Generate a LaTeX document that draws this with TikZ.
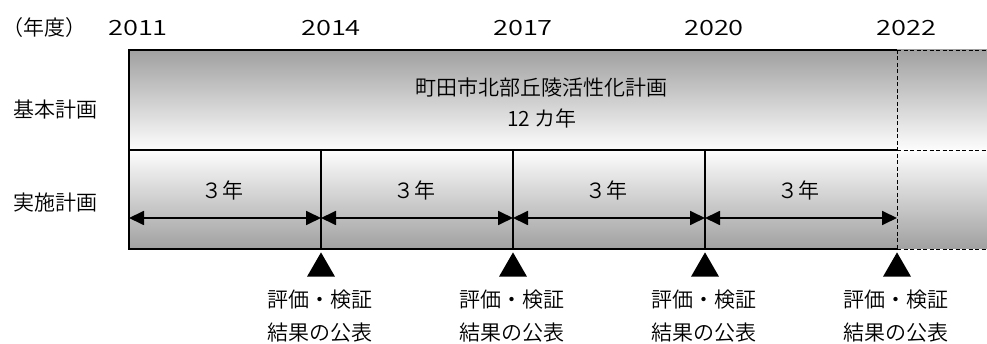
\documentclass[tikz,border=0pt]{standalone}
\usepackage{fontspec}
\usepackage{graphicx}
\setmainfont{Noto Sans CJK JP DemiLight}
\usetikzlibrary{shapes.geometric,arrows.meta}
\definecolor{gdark}{RGB}{160,160,160}
\definecolor{glight}{RGB}{253,253,253}
\begin{document}
\begin{tikzpicture}[x=1pt,y=-1pt,
  txt/.style={font=\fontsize{21}{25}\selectfont, inner sep=0pt},
  upgrad/.style={top color=gdark,bottom color=glight,draw=none},
  downgrad/.style={top color=glight,bottom color=gdark,draw=none},
  frame/.style={line width=2.4pt},
  divider/.style={line width=1.9pt},
  dashline/.style={line width=0.9pt,dash pattern=on 4pt off 2.5pt},
  span/.style={line width=1.8pt,{Triangle[length=15pt,width=14pt]}-{Triangle[length=15pt,width=14pt]}},
  milestone/.style={regular polygon, regular polygon sides=3, fill=black, draw=none, inner sep=0pt, minimum size=32.3pt}
]
\useasboundingbox (0,0) rectangle (987,344);
% shaded bands
\fill[upgrad] (129,50) rectangle (987,150);
\fill[downgrad] (129,150) rectangle (987,249);
% corner coordinates
\coordinate (tl) at (129,50);
\coordinate (tr) at (897,50);
\coordinate (ml) at (129,150);
\coordinate (mr) at (897,150);
\coordinate (bl) at (129,249);
\coordinate (br) at (897,249);
\coordinate (ex1) at (987,50);
\coordinate (ex2) at (987,150);
\coordinate (ex3) at (987,249);
\coordinate (d1t) at (321,150);
\coordinate (d1b) at (321,249);
\coordinate (d2t) at (513,150);
\coordinate (d2b) at (513,249);
\coordinate (d3t) at (705,150);
\coordinate (d3b) at (705,249);
% frame
\draw[frame] (tr) -- (tl) -- (bl) -- (br);
\draw[frame] (ml) -- (mr);
\draw[divider] (d1t) -- (d1b);
\draw[divider] (d2t) -- (d2b);
\draw[divider] (d3t) -- (d3b);
% dashed extension
\draw[dashline] (tr) -- (ex1);
\draw[dashline] (mr) -- (ex2);
\draw[dashline] (br) -- (ex3);
\draw[dashline] (tr) -- (br);
% arrows
\coordinate (a0) at (129,218);
\coordinate (a1) at (321,218);
\coordinate (a2) at (513,218);
\coordinate (a3) at (705,218);
\coordinate (a4) at (897,218);
\draw[span] (a0) -- (a1);
\draw[span] (a1) -- (a2);
\draw[span] (a2) -- (a3);
\draw[span] (a3) -- (a4);
% period labels
\node[txt] (p1) at (222,190) {３年};
\node[txt] (p2) at (414,190) {３年};
\node[txt] (p3) at (606,190) {３年};
\node[txt] (p4) at (798,190) {３年};
% title
\node[txt] (title1) at (541,88) {町田市北部丘陵活性化計画};
\node[txt] (title2) at (542,118) {12 カ年};
% row labels
\node[txt] (nendo) at (44,28) {（年度）};
\node[txt] (row1) at (55,110) {基本計画};
\node[txt] (row2) at (55,203) {実施計画};
% years
\node[txt] (y1) at (138,28) {\scalebox{1.3}[1]{2011}};
\node[txt] (y2) at (331,28) {\scalebox{1.3}[1]{2014}};
\node[txt] (y3) at (523,28) {\scalebox{1.3}[1]{2017}};
\node[txt] (y4) at (714,28) {\scalebox{1.3}[1]{2020}};
\node[txt] (y5) at (906,28) {\scalebox{1.3}[1]{2022}};
% milestones
\node[milestone, anchor=corner 1] (m1) at (321,252) {};
\node[milestone, anchor=corner 1] (m2) at (513,252) {};
\node[milestone, anchor=corner 1] (m3) at (705,252) {};
\node[milestone, anchor=corner 1] (m4) at (897,252) {};
\foreach \i/\x in {1/321,2/513,3/705,4/897}{
  \node[txt] (ea\i) at (\x-1,300) {評価・検証};
  \node[txt] (eb\i) at (\x-1,333) {結果の公表};
}
\end{tikzpicture}
\end{document}
